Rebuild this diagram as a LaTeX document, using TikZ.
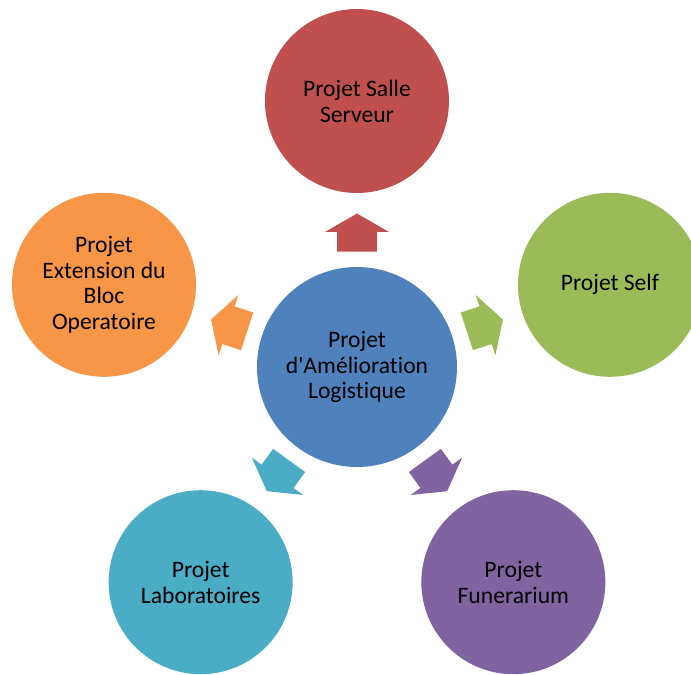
\documentclass[tikz,border=0pt]{standalone}
\usepackage{fontspec}
\setmainfont{Carlito}[Ligatures=NoCommon]
\usetikzlibrary{shapes.arrows,calc}
\definecolor{logistique}{HTML}{4F81BD}
\definecolor{salle}{HTML}{C0504D}
\definecolor{self}{HTML}{9BBB59}
\definecolor{funerarium}{HTML}{8064A2}
\definecolor{labo}{HTML}{4BACC6}
\definecolor{bloc}{HTML}{F79646}
\begin{document}
\begin{tikzpicture}[
    projet/.style={circle, minimum size=4.6cm, inner sep=0pt, align=center,
      font=\fontsize{16.8}{18.4}\selectfont},
    fleche/.style={single arrow, minimum height=0.95cm, inner xsep=0pt,
      inner ysep=0.4875cm, single arrow head extend=0.3cm,
      single arrow tip angle=120, anchor=tail, rotate=#1}]
  \useasboundingbox (-8.925,-7.7) rectangle (8.35,9.175);
  \draw
    (0,0) node[projet, minimum size=5cm, fill=logistique] (centre){Projet\\d\textquotesingle Amélioration\\Logist\kern0pt ique}
    (90:6.65) node[projet, fill=salle] (salle){Projet Salle\\Serveur}
    (18:6.65) node[projet, fill=self] (self){Projet Self}
    (-54:6.65) node[projet, fill=funerarium] (funerarium){Projet\\Funerarium}
    (-126:6.65) node[projet, fill=labo] (labo){Projet\\Laboratoires}
    (162:6.65) node[projet, fill=bloc] (bloc){Projet\\Extension du\\Bloc\\Operatoire};
  \foreach \a/\c in {90/salle,18/self,-54/funerarium,-126/labo,162/bloc}
    \node[fleche=\a, fill=\c] (fleche\c) at ($(centre)!2.88cm!(\c)$) {};
\end{tikzpicture}
\end{document}
